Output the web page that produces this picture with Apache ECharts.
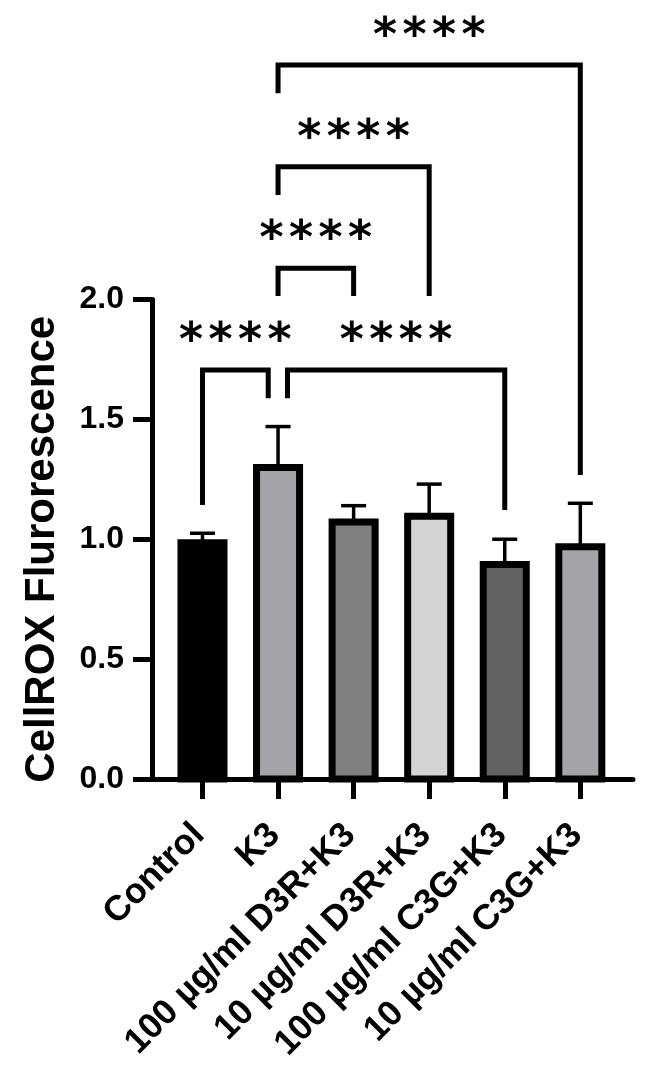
<!DOCTYPE html>
<html>
<head>
<meta charset="utf-8">
<script src="https://cdn.jsdelivr.net/npm/echarts@6/dist/echarts.min.js"></script>
<style>
html,body{margin:0;padding:0;background:#fff;}
#chart{width:651px;height:1073px;}
</style>
</head>
<body>
<div id="chart"></div>
<script>
// ---- data ----
const categories = ['Control', 'K3', '100 µg/ml D3R+K3', '10 µg/ml D3R+K3', '100 µg/ml C3G+K3', '10 µg/ml C3G+K3'];
const means = [1.000, 1.314, 1.087, 1.111, 0.909, 0.983];
const sds = [0.025, 0.156, 0.053, 0.119, 0.091, 0.167];
const barColors = ['#000000', '#a3a4a8', '#808080', '#d4d4d4', '#636363', '#a3a4a8'];
const yMin = 0, yMax = 2, yInterval = 0.5;
const yName = 'CellROX Flurorescence';

// significance brackets (category indices, levels in y units)
const bracketFrom = [0, 1, 1, 1, 1];
const bracketTo = [1, 4, 2, 3, 5];
const bracketLevel = [1.706, 1.706, 2.130, 2.554, 2.978];
const bracketFromEnd = [1.143, 1.588, 2.015, 2.436, 2.860];
const bracketToEnd = [1.588, 1.122, 2.015, 2.015, 1.268];
const bracketFromShift = [0, 0.125, 0, 0, 0];
const bracketToShift = [-0.13, 0, 0, 0, 0];
const bracketLabels = ['****', '****', '****', '****', '****'];

// ---- build ----
const chart = echarts.init(document.getElementById('chart'), null, {renderer: 'canvas'});
const FONT = 'Liberation Sans, Arial, sans-serif';
const STAR_FONT = 'DejaVu Sans, sans-serif';

const barData = categories.map((c, i) => [i, means[i], sds[i], i]);
const bracketData = bracketFrom.map((f, i) => [f, bracketTo[i], bracketLevel[i], bracketFromEnd[i], bracketToEnd[i], bracketFromShift[i], bracketToShift[i], i]);

function renderBar(params, api) {
  const idx = api.value(0), m = api.value(1), sd = api.value(2), ci = api.value(3);
  const band = api.size([1, 0])[0];
  const w = band * 0.662;
  const bw = 7;
  const top = api.coord([idx, m]);
  const base = api.coord([idx, 0]);
  const errTop = api.coord([idx, m + sd]);
  const cx = top[0];
  const capW = 25;
  return {
    type: 'group',
    children: [
      {type: 'line', shape: {x1: cx, y1: top[1] + 4, x2: cx, y2: errTop[1]}, style: {stroke: '#000', lineWidth: 3.5}},
      {type: 'line', shape: {x1: cx - capW / 2, y1: errTop[1], x2: cx + capW / 2, y2: errTop[1]}, style: {stroke: '#000', lineWidth: 3.5}},
      {type: 'rect', shape: {x: cx - w / 2 + bw / 2, y: top[1] + bw / 2, width: w - bw, height: base[1] - top[1] - bw / 2},
        style: {fill: barColors[ci], stroke: '#000', lineWidth: bw, lineJoin: 'miter'}}
    ]
  };
}

function renderBracket(params, api) {
  const f = api.value(0), t = api.value(1), lvl = api.value(2), fe = api.value(3), te = api.value(4);
  const fs = api.value(5), ts = api.value(6), li = api.value(7);
  const band = api.size([1, 0])[0];
  const x1 = api.coord([f, lvl])[0] + fs * band;
  const x2 = api.coord([t, lvl])[0] + ts * band;
  const y = api.coord([f, lvl])[1];
  const y1 = api.coord([f, fe])[1];
  const y2 = api.coord([t, te])[1];
  const children = [{
    type: 'polyline',
    shape: {points: [[x1, y1], [x1, y], [x2, y], [x2, y2]]},
    style: {stroke: '#000', lineWidth: 5, fill: null, lineJoin: 'miter', lineCap: 'butt'}
  }];
  const label = bracketLabels[li];
  const mid = (x1 + x2) / 2;
  const sp = 29.5;
  for (let k = 0; k < label.length; k++) {
    children.push({
      type: 'text',
      x: mid + (k - (label.length - 1) / 2) * sp,
      y: y - 27,
      style: {text: label[k], fill: '#000', font: 'bold 46px ' + STAR_FONT, textAlign: 'center', textVerticalAlign: 'middle'}
    });
  }
  return {type: 'group', children};
}

const option = {
  animation: false,
  backgroundColor: '#fff',
  grid: [
    {left: 152, right: 18, top: 299.5, bottom: 294, containLabel: false},
    {left: 164.7, width: 453.4, top: 299.5, bottom: 294, containLabel: false}
  ],
  xAxis: [
    {gridIndex: 0, type: 'value', min: 0, max: 1, axisLine: {show: true, onZero: false, lineStyle: {color: '#000', width: 5}},
      axisTick: {show: false}, axisLabel: {show: false}, splitLine: {show: false}},
    {gridIndex: 1, type: 'category', data: categories, axisLine: {show: false},
      axisTick: {show: true, alignWithLabel: true, length: 20, lineStyle: {color: '#000', width: 5}},
      axisLabel: {rotate: 45, margin: 47, padding: [0, 5, 0, 0], color: '#000', fontFamily: FONT, fontWeight: 'bold', fontSize: 35.5, interval: 0},
      splitLine: {show: false}}
  ],
  yAxis: [
    {gridIndex: 0, type: 'value', min: yMin, max: yMax, interval: yInterval,
      axisLine: {show: true, lineStyle: {color: '#000', width: 5}},
      axisTick: {show: true, length: 19, lineStyle: {color: '#000', width: 5}},
      axisLabel: {margin: 28, color: '#000', fontFamily: FONT, fontWeight: 'bold', fontSize: 32, formatter: v => v.toFixed(1)},
      splitLine: {show: false},
      name: yName, nameLocation: 'middle', nameGap: 89, nameRotate: 90,
      nameTextStyle: {color: '#000', fontFamily: FONT, fontWeight: 'bold', fontSize: 42, padding: [0, 20, 0, 0]}},
    {gridIndex: 1, type: 'value', min: yMin, max: yMax, interval: yInterval, show: false}
  ],
  series: [
    {type: 'custom', xAxisIndex: 1, yAxisIndex: 1, renderItem: renderBar, data: barData, clip: false, z: 3},
    {type: 'custom', xAxisIndex: 1, yAxisIndex: 1, renderItem: renderBracket, data: bracketData, clip: false, z: 4}
  ]
};
chart.setOption(option);
</script>
</body>
</html>
